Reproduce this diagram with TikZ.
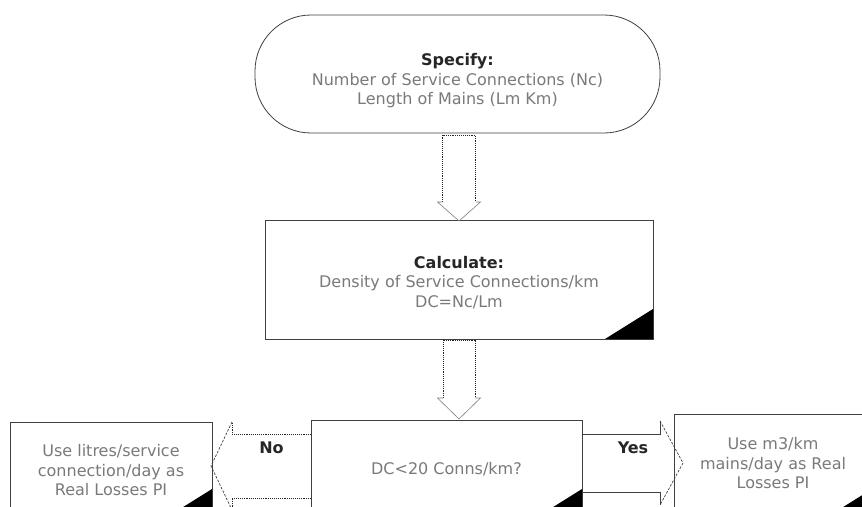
\documentclass[tikz,border=0pt]{standalone}
\usepackage{fontspec}
\setmainfont{DejaVu Sans}
\usetikzlibrary{calc}
\definecolor{bodygray}{HTML}{7A7A7A}
\newcommand\hdr[1]{{\bfseries\color{black!85}#1}}
\tikzset{
  box/.style={draw=black!75, line width=0.8pt, fill=white, inner sep=0pt, outer sep=0pt},
  bodytext/.style={align=center, text=bodygray, inner sep=0pt, font=\fontsize{16}{19.5}\selectfont},
  shaft/.style={densely dotted, line width=0.9pt, black!85},
  headline/.style={line width=0.6pt, black!50},
  headdash/.style={dash pattern=on 2.5pt off 1.5pt, line width=0.7pt, black!75},
  shaftsolid/.style={line width=0.8pt, black!75},
  choice/.style={font=\bfseries\fontsize{16}{19}\selectfont, text=black!85, inner sep=0pt},
}
\begin{document}
\begin{tikzpicture}[x=1pt,y=-1pt]
\useasboundingbox (0,0) rectangle (862,506);
\clip (0,0) rectangle (862,506);

% process boxes
\node[box, rounded corners=56pt, minimum width=405pt, minimum height=118pt] (spec) at (457.5,74) {};
\node[box, minimum width=388pt, minimum height=119pt] (calc) at (459,279.5) {};
\node[box, minimum width=271pt, minimum height=99pt] (dec) at (446.5,469.5) {};
\node[box, minimum width=202pt, minimum height=97pt] (lbox) at (111,470.5) {};
\node[box, minimum width=198pt, minimum height=105pt] (rbox) at (773,466.5) {};

% corner marks
\foreach \n in {calc,dec,lbox,rbox}
  \fill[black] (\n.south east) -- ++(-48,0) -- ++(48,-30) -- cycle;

% box texts
\node[bodytext] (spectext) at ($(spec.center)+(0,7)$) {\hdr{Specify:}\\Number of Service Connections (Nc)\\Length of Mains (Lm Km)};
\node[bodytext] (calctext) at ($(calc.center)+(0,3)$) {\hdr{Calculate:}\\Density of Service Connections/km\\DC=Nc/Lm};
\node[bodytext] (dectext) at (dec.center) {DC<20 Conns/km?};
\node[bodytext] (ltext) at (lbox.center) {Use litres/service\\connection/day as\\Real Losses PI};
\node[bodytext] (rtext) at ($(rbox.center)+(0,-3)$) {Use m3/km\\mains/day as Real\\Losses PI};

% block arrow: spec -> calc
\coordinate (d1t) at (spec.south -| calc.north);
\coordinate (d1b) at (calc.north);
\draw[shaft] ($(d1b)+(-16.5,-18)$) -- ($(d1t)+(-16.5,2)$) -- ($(d1t)+(16.5,2)$) -- ($(d1b)+(16.5,-18)$);
\draw[headline] ($(d1b)+(-16.5,-18)$) -- ($(d1b)+(-21.5,-18)$) -- ($(d1b)+(0,1)$) -- ($(d1b)+(21.5,-18)$) -- ($(d1b)+(16.5,-18)$);

% block arrow: calc -> dec
\coordinate (d2t) at (calc.south);
\coordinate (d2b) at (dec.north -| calc.south);
\draw[shaft] ($(d2b)+(-16,-22)$) -- ($(d2t)+(-16,1)$) -- ($(d2t)+(16,1)$) -- ($(d2b)+(16,-22)$);
\draw[headline] ($(d2b)+(-16,-22)$) -- ($(d2b)+(-21.5,-22)$) -- ($(d2b)+(0,-1)$) -- ($(d2b)+(21.5,-22)$) -- ($(d2b)+(16,-22)$);

% block arrow: dec -> lbox (No)
\coordinate (noc) at ($(dec.west)+(0,-3.5)$);
\coordinate (nob) at ($(lbox.east |- noc)+(20,0)$);
\draw[shaft] ($(noc)+(0,-32)$) -- ($(nob)+(0,-32)$) -- ($(nob)+(0,-44)$);
\draw[shaft] ($(noc)+(0,32)$) -- ($(nob)+(0,32)$) -- ($(nob)+(0,44)$);
\draw[headdash] ($(nob)+(0,-44)$) -- ($(lbox.east |- noc)+(-1,0)$) -- ($(nob)+(0,44)$);
\node[choice] (nolabel) at ($(noc)!0.5!(nob)+(0,-18)$) {No};

% block arrow: dec -> rbox (Yes)
\coordinate (yc) at ($(dec.east)+(0,-6.5)$);
\coordinate (yb) at ($(rbox.west |- yc)+(-14,0)$);
\draw[shaftsolid] ($(yc)+(0,-29)$) -- ($(yb)+(0,-29)$) -- ($(yb)+(0,-42)$);
\draw[shaftsolid] ($(yc)+(0,29)$) -- ($(yb)+(0,29)$) -- ($(yb)+(0,42)$);
\draw[headdash] ($(yb)+(0,-42)$) -- ($(rbox.west |- yc)+(9,0)$) -- ($(yb)+(0,42)$);
\node[choice] (yeslabel) at ($(yc)!0.5!(yb)+(12,-15)$) {Yes};
\end{tikzpicture}
\end{document}
